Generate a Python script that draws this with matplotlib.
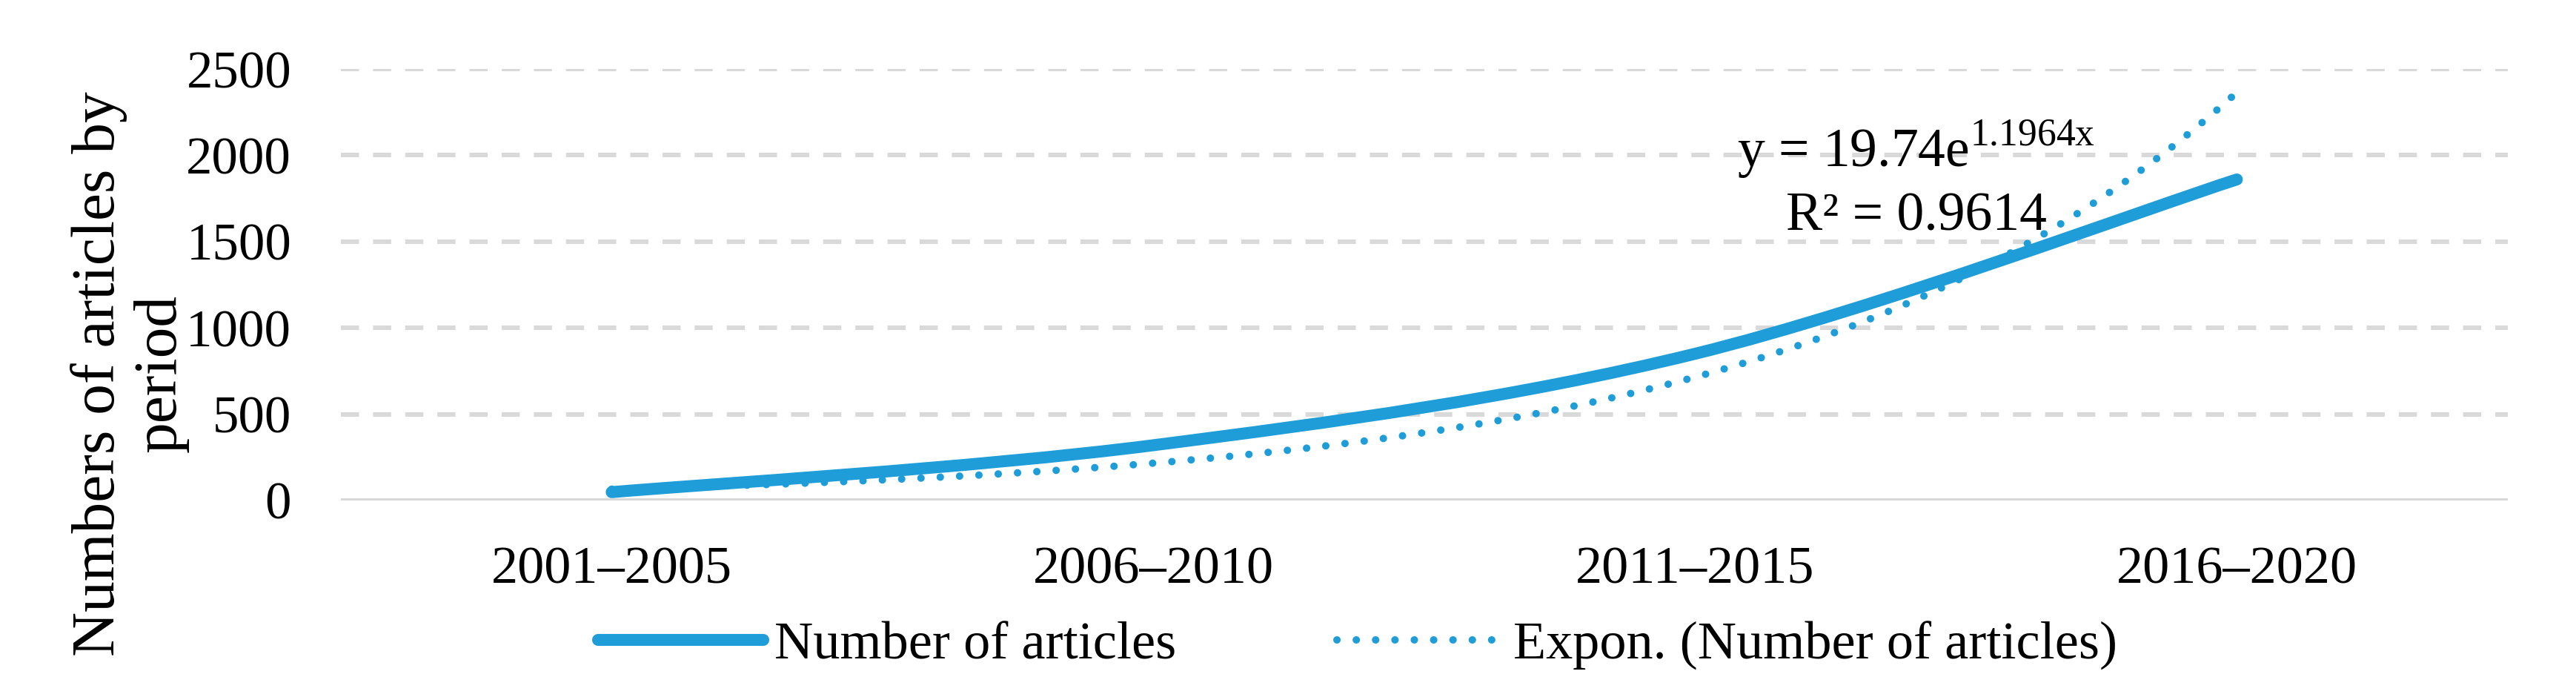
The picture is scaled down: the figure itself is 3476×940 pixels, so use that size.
import matplotlib
matplotlib.use("Agg")
import matplotlib.pyplot as plt
import numpy as np
from matplotlib.path import Path
from matplotlib.patches import PathPatch
from matplotlib.lines import Line2D

# Data
periods = ['2001–2005', '2006–2010', '2011–2015', '2016–2020']
articles = [48, 320, 850, 1860]
y_ticks = [0, 500, 1000, 1500, 2000, 2500]

# exponential trendline as reported on the chart
trend_a = 19.74
trend_b = 1.1964
r_squared = 0.9614

blue = '#1f9dd8'
grid_grey = '#d9d9d9'

plt.rcParams['font.family'] = ['Liberation Serif', 'DejaVu Serif']
plt.rcParams['mathtext.fontset'] = 'custom'
plt.rcParams['mathtext.rm'] = 'Liberation Serif'

fig = plt.figure(figsize=(17.38, 4.7), dpi=200)
ax = fig.add_axes([0.1323, 0.282, 0.8412, 0.619])

x = np.arange(1, len(periods) + 1)

# smoothed line like Excel (bezier segments through the points)
pts = np.column_stack([x, articles]).astype(float)
ext = np.vstack([pts[0], pts, pts[-1]])
verts = [tuple(pts[0])]
codes = [Path.MOVETO]
for i in range(len(pts) - 1):
    p0, p1, p2, p3 = ext[i], ext[i + 1], ext[i + 2], ext[i + 3]
    c1 = p1 + (p2 - p0) / 6
    c2 = p2 - (p3 - p1) / 6
    verts += [tuple(c1), tuple(c2), tuple(p2)]
    codes += [Path.CURVE4] * 3
curve = PathPatch(Path(verts, codes), fill=False, edgecolor=blue, lw=5.8,
                  capstyle='round', joinstyle='round', zorder=3)
ax.add_patch(curve)

# trendline
xt = np.linspace(1, len(periods), 200)
ax.plot(xt, trend_a * np.exp(trend_b * xt), color=blue, lw=3.6,
        linestyle=(0, (0.01, 2.6)), dash_capstyle='round', zorder=4)

ax.set_xlim(0.5, len(periods) + 0.5)
ax.set_ylim(0, 2500)
ax.set_yticks(y_ticks)
ax.set_xticks(x)
ax.set_xticklabels(periods)
ax.tick_params(axis='both', length=0)
ax.tick_params(axis='x', pad=22, labelsize=26)
ax.tick_params(axis='y', pad=24, labelsize=25.5)

for v in y_ticks[1:]:
    ax.axhline(v, color=grid_grey, lw=2.2, linestyle=(0, (4, 3.1)), zorder=1)
ax.axhline(0, color=grid_grey, lw=2.2, zorder=1)
for s in ax.spines.values():
    s.set_visible(False)

ax.text(0.727, 0.774, 'y = %.2fe$^{\\mathregular{%.4fx}}$' % (trend_a, trend_b),
        transform=ax.transAxes, ha='center', va='baseline', fontsize=26.5)
ax.text(0.727, 0.626, 'R² = %.4f' % r_squared,
        transform=ax.transAxes, ha='center', va='baseline', fontsize=26.5)

fig.text(0.0503, 0.464, 'Numbers of articles by\nperiod', rotation=90,
         ha='center', va='center', multialignment='center', fontsize=30,
         linespacing=1.12)

handles = [Line2D([], [], color=blue, lw=5.8, solid_capstyle='round'),
           Line2D([], [], color=blue, lw=3.6, linestyle=(0, (0.01, 2.6)),
                  dash_capstyle='round')]
fig.legend(handles, ['Number of articles', 'Expon. (Number of articles)'],
           loc='center', bbox_to_anchor=(0.527, 0.0734), ncol=2, frameon=False,
           fontsize=26, handlelength=3.1, handletextpad=0.2, columnspacing=3.0)

fig.savefig('out.png', dpi=200)
